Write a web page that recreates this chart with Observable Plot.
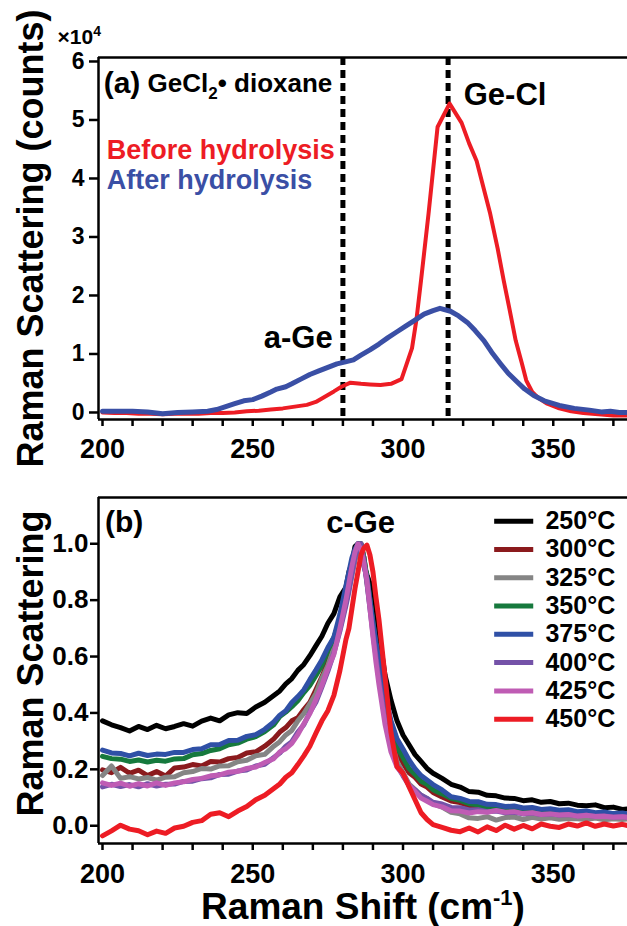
<!DOCTYPE html>
<html><head><meta charset="utf-8">
<script src="https://cdn.jsdelivr.net/npm/d3@7"></script>
<script src="https://cdn.jsdelivr.net/npm/@observablehq/plot@0.6"></script>
<style>
body{margin:0;background:#fff}
#chart{width:627px;height:926px;position:relative;overflow:hidden;background:#fff}
#chart svg{display:block}
</style>
</head><body><div id="chart"></div>
<script>
// ---------- Panel (a) data: Raman counts (x10^4) ----------
const beforeX = [200,204,208,212,216,220,224,228,232,236,240,244,248,252,256,260,264,268,271,274,277,279.5,282.5,286,289,292.5,296,299.5,303,304.5,306,308.5,311.5,315.5,319.5,322,324.5,327,329,331.5,333.5,335.5,337.5,339.5,341,343,345,348,352,356,360,365,370,375];
const beforeY = [0,-0.01,-0.01,-0.02,-0.02,-0.03,-0.02,-0.02,-0.02,-0.01,-0.01,0.0,0.02,0.03,0.05,0.07,0.10,0.13,0.18,0.27,0.36,0.44,0.51,0.49,0.48,0.47,0.49,0.57,1.10,1.60,2.26,3.40,4.88,5.28,4.95,4.60,4.30,3.80,3.40,2.80,2.26,1.75,1.23,0.85,0.55,0.35,0.25,0.15,0.07,0.02,-0.01,-0.03,-0.05,-0.05];
const afterX = [200,205,210,215,220,225,230,235,238,241,244,247,250,253,256,258,261,263,266,269,272,275,278,280.5,283.5,286,289,292,295,298,301,304,307,310,312.3,315.8,318.5,321.4,324,326.9,329.5,332.5,335,338,340.5,343.5,347,352,357,362,366,369,372,375];
const afterY = [0.02,0.02,0.02,0.01,-0.02,0.0,0.01,0.02,0.05,0.10,0.15,0.20,0.22,0.28,0.35,0.40,0.44,0.49,0.57,0.65,0.71,0.77,0.83,0.86,0.90,0.98,1.07,1.17,1.28,1.38,1.48,1.58,1.68,1.74,1.78,1.73,1.65,1.54,1.40,1.23,1.03,0.83,0.67,0.52,0.40,0.29,0.20,0.12,0.07,0.04,0.01,0.02,0.0,0.0];
const dashPositions = [280, 315];
const ticksA = [0,1,2,3,4,5,6];

// ---------- Panel (b) data: normalized Raman scattering ----------
const xB = [200,203,206,209,212,215,218,221,224,227,230,233,236,239,242,245,248,251,254,
  257,259,261,263,265,267,269,271,273,275,277,279,281,
  282,283,284,285,286,287,288,289,290,291,292,
  294,296,298,300,302,304,306,308,310,
  313,316,319,322,325,328,331,334,337,340,343,346,349,352,355,358,361,364,367,370,373,375];
const temps = ["250°C","300°C","325°C","350°C","375°C","400°C","425°C","450°C"];
const t250 = [0.372,0.358,0.348,0.336,0.352,0.341,0.356,0.344,0.352,0.362,0.353,0.371,0.382,0.372,0.393,0.401,0.398,0.421,0.438,
  0.462,0.478,0.503,0.522,0.551,0.572,0.603,0.638,0.672,0.718,0.752,0.812,0.845,
  0.90,0.93,0.99,1.0,0.96,0.925,0.89,0.86,0.80,0.74,0.68,
  0.535,0.445,0.372,0.322,0.287,0.252,0.228,0.203,0.186,
  0.168,0.147,0.137,0.121,0.119,0.108,0.106,0.098,0.097,0.089,0.092,0.083,0.086,0.078,0.08,0.073,0.071,0.074,0.064,0.066,0.058,0.06];
const t300 = [0.198,0.188,0.207,0.186,0.197,0.178,0.192,0.176,0.205,0.208,0.217,0.212,0.228,0.226,0.238,0.242,0.258,0.262,0.282,
  0.308,0.332,0.348,0.372,0.383,0.412,0.438,0.482,0.528,0.582,0.638,0.712,0.80,
  0.85,0.90,0.95,0.985,1.0,0.95,0.87,0.79,0.71,0.63,0.56,
  0.43,0.332,0.262,0.222,0.188,0.172,0.148,0.137,0.118,
  0.102,0.088,0.082,0.07,0.066,0.058,0.057,0.05,0.052,0.046,0.047,0.042,0.045,0.04,0.042,0.036,0.038,0.033,0.035,0.031,0.033,0.03];
const t325 = [0.178,0.212,0.168,0.174,0.166,0.171,0.162,0.172,0.174,0.188,0.192,0.203,0.201,0.212,0.213,0.227,0.232,0.248,0.253,
  0.282,0.298,0.322,0.338,0.372,0.398,0.432,0.468,0.522,0.568,0.632,0.70,0.79,
  0.84,0.89,0.94,0.98,1.0,0.95,0.86,0.78,0.70,0.62,0.54,
  0.40,0.302,0.228,0.188,0.148,0.128,0.108,0.097,0.078,
  0.066,0.048,0.042,0.028,0.026,0.032,0.02,0.029,0.031,0.022,0.03,0.024,0.028,0.023,0.026,0.025,0.022,0.027,0.021,0.025,0.022,0.024];
const t350 = [0.246,0.238,0.236,0.228,0.233,0.226,0.232,0.229,0.237,0.238,0.252,0.256,0.267,0.273,0.287,0.293,0.307,0.316,0.334,
  0.358,0.387,0.403,0.422,0.443,0.472,0.498,0.532,0.568,0.622,0.668,0.73,0.82,
  0.87,0.92,0.96,0.99,1.0,0.95,0.88,0.80,0.72,0.64,0.57,
  0.44,0.342,0.278,0.242,0.203,0.182,0.158,0.147,0.128,
  0.113,0.097,0.09,0.078,0.074,0.064,0.063,0.056,0.057,0.051,0.052,0.046,0.048,0.043,0.045,0.039,0.04,0.036,0.037,0.033,0.034,0.03];
const t375 = [0.268,0.258,0.256,0.248,0.257,0.249,0.254,0.253,0.26,0.26,0.27,0.273,0.287,0.288,0.302,0.303,0.317,0.323,0.342,
  0.368,0.392,0.408,0.437,0.458,0.482,0.518,0.552,0.588,0.632,0.668,0.75,0.85,
  0.90,0.95,0.98,1.0,0.97,0.92,0.88,0.80,0.72,0.65,0.59,
  0.47,0.372,0.308,0.272,0.233,0.202,0.178,0.162,0.146,
  0.127,0.103,0.097,0.086,0.085,0.076,0.075,0.068,0.07,0.063,0.065,0.058,0.06,0.055,0.057,0.05,0.052,0.046,0.049,0.043,0.045,0.041];
const t400 = [0.138,0.147,0.139,0.146,0.138,0.149,0.141,0.147,0.148,0.157,0.158,0.167,0.17,0.182,0.183,0.194,0.198,0.212,0.218,
  0.242,0.258,0.282,0.298,0.332,0.358,0.402,0.438,0.492,0.548,0.612,0.69,0.78,
  0.83,0.89,0.95,0.99,1.0,0.94,0.86,0.77,0.68,0.60,0.52,
  0.38,0.282,0.213,0.177,0.143,0.127,0.108,0.097,0.083,
  0.077,0.065,0.064,0.056,0.057,0.05,0.052,0.046,0.048,0.042,0.045,0.04,0.042,0.038,0.04,0.035,0.037,0.034,0.035,0.031,0.033,0.03];
const t425 = [0.152,0.143,0.151,0.14,0.149,0.141,0.152,0.143,0.152,0.156,0.164,0.168,0.177,0.18,0.19,0.193,0.203,0.208,0.224,
  0.238,0.262,0.273,0.292,0.323,0.362,0.398,0.447,0.498,0.557,0.608,0.70,0.80,
  0.86,0.92,0.97,1.0,0.98,0.93,0.87,0.77,0.67,0.58,0.50,
  0.36,0.262,0.208,0.182,0.143,0.122,0.098,0.087,0.075,
  0.067,0.053,0.052,0.045,0.05,0.048,0.054,0.048,0.05,0.043,0.046,0.04,0.042,0.038,0.04,0.034,0.037,0.033,0.034,0.03,0.032,0.029];
const t450 = [-0.036,-0.018,0.002,-0.012,-0.018,-0.032,-0.019,-0.027,-0.008,-0.002,0.012,0.018,0.041,0.046,0.032,0.052,0.068,0.092,0.108,
  0.132,0.148,0.172,0.188,0.217,0.248,0.282,0.328,0.372,0.408,0.462,0.55,0.66,
  0.70,0.77,0.84,0.90,0.96,0.985,0.995,0.96,0.90,0.81,0.73,
  0.53,0.33,0.21,0.186,0.138,0.092,0.046,0.022,0.004,
  -0.006,-0.016,-0.021,-0.008,-0.022,-0.004,-0.017,0.002,-0.012,0.001,-0.011,0.006,-0.002,-0.006,0.006,-0.001,0.01,-0.002,0.006,-0.001,0.005,0.0];
const seriesB = [t250,t300,t325,t350,t375,t400,t425,t450];
const ticksB = [0,0.2,0.4,0.6,0.8,1.0];
const xTicks = d3.range(200, 380, 10);

// ---------- styling ----------
const FONT = "'Liberation Sans', Arial, Helvetica, sans-serif";
const RED = "#ED1C24", BLUE = "#3A4FA5";
const colorsB = ["#000000","#8B1A1D","#858585","#16793D","#2F50A6","#7452A8","#BF5CB4","#ED1C24"];
const xDomain = [198.67, 374.7];
const yDomA = [-0.12, 6.068];
const yDomB = [-0.063, 1.164];
const fmtX = d => d % 50 === 0 ? String(d) : "";

const rows = (xs, ys) => xs.map((x, i) => ({x, y: ys[i]}));

const svgA = Plot.plot({
  width: 627, height: 470,
  marginLeft: 98, marginRight: 0, marginTop: 57, marginBottom: 51,
  style: {fontFamily: FONT, fontWeight: "bold", background: "white", overflow: "visible", color: "black"},
  x: {domain: xDomain},
  y: {domain: yDomA},
  marks: [
    Plot.axisX({ticks: xTicks, tickFormat: fmtX, tickSize: 7, tickPadding: 12, fontSize: 27, fontWeight: "bold", strokeWidth: 2.5, label: null}),
    Plot.axisY({ticks: ticksA, tickFormat: d => String(d), tickSize: 9, tickPadding: 5, fontSize: 23, fontWeight: "bold", strokeWidth: 2.5, label: null}),
    Plot.ruleX([xDomain[0]], {strokeWidth: 2.5}),
    Plot.ruleY(yDomA, {strokeWidth: 2.5}),
    Plot.ruleX(dashPositions, {strokeWidth: 5, strokeDasharray: "8,5"}),
    Plot.line(rows(beforeX, beforeY), {x: "x", y: "y", stroke: RED, strokeWidth: 4, strokeLinejoin: "round"}),
    Plot.line(rows(afterX, afterY), {x: "x", y: "y", stroke: BLUE, strokeWidth: 5, strokeLinejoin: "round"}),
    Plot.text(["(a)"], {x: 200.4, y: 5.62, text: d => d, textAnchor: "start", fontSize: 30, fontWeight: "bold"}),
    Plot.text(["GeCl2• dioxane"], {x: 215.0, y: 5.62, text: d => d, textAnchor: "start", fontSize: 26, fontWeight: "bold"}),
    Plot.text(["Before hydrolysis"], {x: 201.4, y: 4.48, text: d => d, textAnchor: "start", fontSize: 27, fontWeight: "bold", fill: RED}),
    Plot.text(["After hydrolysis"], {x: 201.4, y: 3.97, text: d => d, textAnchor: "start", fontSize: 27, fontWeight: "bold", fill: BLUE}),
    Plot.text(["a-Ge"], {x: 276.6, y: 1.28, text: d => d, textAnchor: "end", fontSize: 31, fontWeight: "bold"}),
    Plot.text(["Ge-Cl"], {x: 320.2, y: 5.42, text: d => d, textAnchor: "start", fontSize: 31, fontWeight: "bold"}),
    Plot.text(["x104"], {frameAnchor: "top-left", dx: -41, dy: -20, lineAnchor: "middle", text: d => d, textAnchor: "start", fontSize: 21, fontWeight: "bold"}),
    Plot.text(["Raman Scattering (counts)"], {frameAnchor: "left", dx: -67, rotate: -90, lineAnchor: "middle", text: d => d, textAnchor: "middle", fontSize: 36, fontWeight: "bold"})
  ]
});

const legendRows = temps.map((t, i) => ({label: t, color: colorsB[i], i}));
const legendY = d => 1.08 - d.i * 0.1003;

const svgB = Plot.plot({
  width: 627, height: 456,
  marginLeft: 98, marginRight: 0, marginTop: 27, marginBottom: 83,
  style: {fontFamily: FONT, fontWeight: "bold", background: "white", overflow: "visible", color: "black"},
  x: {domain: xDomain},
  y: {domain: yDomB},
  color: {type: "identity"},
  marks: [
    Plot.axisX({ticks: xTicks, tickFormat: fmtX, tickSize: 7, tickPadding: 13, fontSize: 27, fontWeight: "bold", strokeWidth: 2.5, label: null}),
    Plot.axisY({ticks: ticksB, tickFormat: d3.format(".1f"), tickSize: 8, tickPadding: 2, fontSize: 26, fontWeight: "bold", strokeWidth: 2.5, label: null}),
    Plot.ruleX([xDomain[0]], {strokeWidth: 2.5}),
    Plot.ruleY(yDomB, {strokeWidth: 2.5}),
    ...seriesB.map((s, k) => Plot.line(rows(xB, s), {x: "x", y: "y", stroke: colorsB[k], strokeWidth: 5, strokeLinejoin: "round"})),
    Plot.text(["(b)"], {x: 200.8, y: 1.076, text: d => d, textAnchor: "start", fontSize: 30, fontWeight: "bold"}),
    Plot.text(["c-Ge"], {x: 285.9, y: 1.072, text: d => d, textAnchor: "middle", fontSize: 31, fontWeight: "bold"}),
    Plot.ruleY(legendRows, {y: legendY, x1: 330.5, x2: 343.5, stroke: d => d.color, strokeWidth: 5}),
    Plot.text(legendRows, {x: 347.4, y: legendY, text: "label", textAnchor: "start", fontSize: 25, fontWeight: "bold"}),
    Plot.text(["Raman Scattering"], {frameAnchor: "left", dx: -67, dy: -7, rotate: -90, lineAnchor: "middle", text: d => d, textAnchor: "middle", fontSize: 36, fontWeight: "bold"}),
    Plot.text(["Raman Shift (cm-1)"], {frameAnchor: "bottom", dy: 64, lineAnchor: "middle", text: d => d, textAnchor: "middle", fontSize: 37, fontWeight: "bold"})
  ]
});

// rich text: sub/superscripts as tspans
function richText(svg, plain, parts) {
  svg.querySelectorAll("text").forEach(t => {
    if (t.textContent !== plain) return;
    const target = t.querySelector("tspan") || t;
    target.textContent = "";
    let prev = 0;
    for (const [s, off, size] of parts) {
      const ts = document.createElementNS("http://www.w3.org/2000/svg", "tspan");
      ts.textContent = s;
      if (off !== prev) ts.setAttribute("dy", off - prev);
      if (size) ts.setAttribute("font-size", size);
      prev = off;
      target.appendChild(ts);
    }
  });
}
richText(svgA, "GeCl2• dioxane", [["GeCl", 0], ["2", 7, 17], ["• dioxane", 0]]);
richText(svgA, "x104", [["×10", 0], ["4", -8, 14]]);
richText(svgB, "Raman Shift (cm-1)", [["Raman Shift (cm", 0], ["-1", -14, 22], [")", 0]]);

const chart = document.getElementById("chart");
chart.appendChild(svgA);
chart.appendChild(svgB);
</script></body></html>
